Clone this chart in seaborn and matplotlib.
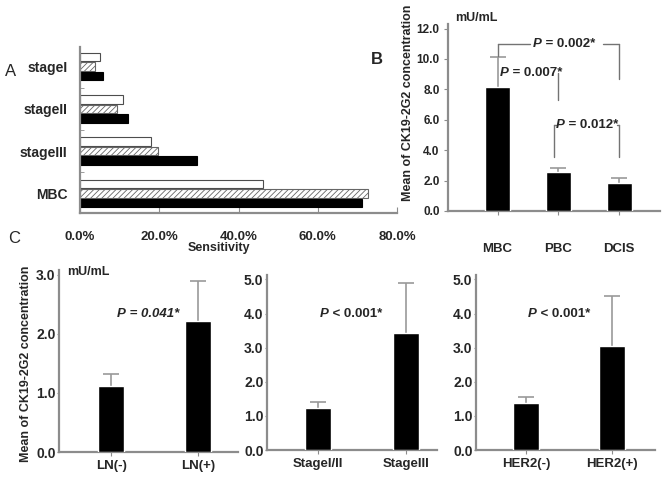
import matplotlib
matplotlib.use("Agg")
import matplotlib.pyplot as plt
import seaborn as sns
import pandas as pd
import numpy as np

# Panel A: sensitivity per stage (three markers: white, hatched, black)
stages = ["stageI", "stageII", "stageIII", "MBC"]
markers = ["marker1", "marker2", "marker3"]
sens_white = [5.0, 10.8, 17.8, 46.2]
sens_hatch = [3.9, 9.4, 19.6, 72.8]
sens_black = [5.7, 12.0, 29.5, 71.1]
sens_ticks = [0, 20, 40, 60, 80]

# Panel B: mean concentration by group (mean, top of error bar)
b_groups = ["MBC", "PBC", "DCIS"]
b_mean = [8.15, 2.59, 1.82]
b_upper = [10.13, 2.81, 2.17]

# Panel C
ln_groups = ["LN(-)", "LN(+)"]
ln_mean = [1.11, 2.22]
ln_upper = [1.32, 2.89]
stage_groups = ["StageI/II", "StageIII"]
stage_mean = [1.24, 3.42]
stage_upper = [1.40, 4.89]
her2_groups = ["HER2(-)", "HER2(+)"]
her2_mean = [1.37, 3.05]
her2_upper = [1.55, 4.50]

sns.set_style("white")
plt.rcParams["font.family"] = ["Liberation Sans", "DejaVu Sans"]
plt.rcParams["hatch.linewidth"] = 0.6

W, H = 664, 484
SPINE = "0.55"
ERR = "0.6"


def box(x0, x1, ytop, ybot):
    return [x0 / W, 1 - ybot / H, (x1 - x0) / W, (ybot - ytop) / H]


def fig_text(fig, x, y, s, **kw):
    fig.text(x / W, 1 - y / H, s, **kw)


def style_axes(ax):
    sns.despine(ax=ax)
    for side in ["left", "bottom"]:
        ax.spines[side].set_color(SPINE)
        ax.spines[side].set_linewidth(1.6)


def p_label(ax, x, y, rest, all_italic=False, size=9.5):
    t = ax.text(x, y, "P", fontstyle="italic", fontweight="bold",
                fontsize=size, va="center", ha="left")
    ax.annotate(rest, xy=(1, 0), xycoords=t, va="bottom", ha="left",
                fontweight="bold", fontsize=size,
                fontstyle="italic" if all_italic else "normal")


def bar_panel(ax, groups, means, uppers, width):
    df = pd.DataFrame({"group": groups, "mean": means})
    sns.barplot(data=df, x="group", y="mean", color="black", saturation=1,
                width=width, ax=ax)
    for p in ax.patches:
        p.set_zorder(3)
    # upper-only error bars: stem + cap marker
    xs = np.arange(len(means))
    ax.vlines(xs, means, uppers, color=ERR, lw=1.2, zorder=1)
    ax.plot(xs, uppers, ls="none", marker="_", markersize=12,
            markeredgewidth=1.2, color=ERR, zorder=1)
    style_axes(ax)
    ax.set_xlabel("")
    ax.set_ylabel("")


fig = plt.figure(figsize=(6.64, 4.84), dpi=100)

# ---------------- Panel A ----------------
ax_a = fig.add_axes(box(80, 397, 47, 213))
df_a = pd.DataFrame({
    "stage": stages * 3,
    "marker": np.repeat(markers, len(stages)),
    "sens": sens_white + sens_hatch + sens_black,
})
sns.barplot(data=df_a, x="sens", y="stage", hue="marker", order=stages,
            hue_order=markers, palette=["white", "white", "black"],
            saturation=1, width=0.68, gap=0.1, orient="h", legend=False,
            linewidth=0.8, ax=ax_a)
for p in ax_a.containers[0]:
    p.set_edgecolor("0.3")
for p in ax_a.containers[1]:
    p.set_edgecolor("0.4")
    p.set_hatch("//////")
for p in ax_a.containers[2]:
    p.set_edgecolor("black")
ax_a.set_xlim(0, 80)
ax_a.set_ylim(3.46, -0.46)
ax_a.set_xticks(sens_ticks)
ax_a.set_xticklabels([f"{v:.1f}%" for v in sens_ticks], fontweight="bold",
                     fontsize=9.5)
ax_a.set_yticks(range(len(stages)))
ax_a.set_yticklabels(stages, fontweight="bold", fontsize=10)
ax_a.set_yticks([0.5, 1.5, 2.5], minor=True)
ax_a.tick_params(axis="x", direction="in", length=4, pad=13, color=SPINE,
                 bottom=True)
ax_a.tick_params(axis="y", which="major", length=0, pad=9)
ax_a.tick_params(axis="y", which="minor", direction="in", length=3,
                 color=SPINE, left=True)
ax_a.set_xlabel("")
ax_a.set_ylabel("")
style_axes(ax_a)
fig_text(fig, 219, 248, "Sensitivity", fontweight="bold", fontsize=9,
         ha="center", va="center")
fig_text(fig, 11, 72, "A", fontsize=12, ha="center", va="center")

# ---------------- Panel B ----------------
ax_b = fig.add_axes(box(448, 660, 24, 211))
bar_panel(ax_b, b_groups, b_mean, b_upper, 0.41)
ax_b.set_xlim(-0.815, 2.67)
ax_b.set_ylim(0, 12.3)
b_ticks = np.arange(0, 13, 2)
ax_b.set_yticks(b_ticks)
ax_b.set_yticklabels([f"{v:.1f}" for v in b_ticks], fontweight="bold",
                     fontsize=8.5)
ax_b.set_xticks(range(len(b_groups)))
ax_b.set_xticklabels(b_groups, fontweight="bold", fontsize=9.5)
ax_b.tick_params(axis="y", direction="out", length=3, pad=3, color=SPINE,
                 left=True)
ax_b.tick_params(axis="x", direction="out", length=3, pad=20, color=SPINE,
                 bottom=True)

# significance brackets
lk = dict(color="0.45", lw=1.0)
ax_b.plot([0, 0.53], [11.0, 11.0], **lk)
ax_b.plot([1.74, 2], [11.0, 11.0], **lk)
ax_b.plot([0, 0], [11.0, 10.2], **lk)
ax_b.plot([2, 2], [11.0, 8.7], **lk)
p_label(ax_b, 0.58, 11.0, " = 0.002*", size=9.5)

ax_b.plot([1, 1], [9.1, 7.3], **lk)
p_label(ax_b, 0.04, 9.1, " = 0.007*", size=9.5)

ax_b.plot([0.92, 0.92], [5.67, 3.56], **lk)
ax_b.plot([2, 2], [5.67, 3.56], **lk)
ax_b.plot([0.92, 0.96], [5.67, 5.67], **lk)
ax_b.plot([1.97, 2], [5.67, 5.67], **lk)
p_label(ax_b, 0.96, 5.67, " = 0.012*", size=9.5)

fig_text(fig, 408, 103, "Mean of CK19-2G2 concentration", rotation=90,
         fontweight="bold", fontsize=9, ha="center", va="center")
fig_text(fig, 455, 18, "mU/mL", fontweight="bold", fontsize=9, ha="left",
         va="center")
fig_text(fig, 377, 60, "B", fontweight="bold", fontsize=12, ha="center",
         va="center")

# ---------------- Panel C ----------------
c_specs = [
    (box(59, 238, 270, 452), ln_groups, ln_mean, ln_upper, (-0.6, 1.46),
     3.08, [0, 1, 2, 3], "P = 0.041*"),
    (box(267, 437, 275, 450), stage_groups, stage_mean, stage_upper,
     (-0.58, 1.35), 5.13, [0, 1, 2, 3, 4, 5], "P < 0.001*"),
    (box(476, 655, 275, 450), her2_groups, her2_mean, her2_upper,
     (-0.58, 1.5), 5.13, [0, 1, 2, 3, 4, 5], "P < 0.001*"),
]
for i, (pos, groups, means, uppers, xl, ytop, yt, ptxt) in enumerate(c_specs):
    ax = fig.add_axes(pos)
    bar_panel(ax, groups, means, uppers, 0.3)
    ax.set_xlim(*xl)
    ax.set_ylim(0, ytop)
    ax.set_yticks(yt)
    ax.set_yticklabels([f"{v:.1f}" for v in yt], fontweight="bold",
                       fontsize=10)
    ax.set_xticks(range(len(groups)))
    ax.set_xticklabels(groups, fontweight="bold", fontsize=9.5)
    ax.tick_params(axis="y", direction="out", length=1.5, pad=1, color=SPINE,
                   left=True)
    ax.tick_params(axis="x", direction="out", length=3, pad=3, color=SPINE,
                   bottom=True)
    if i == 0:
        p_label(ax, 0.07, 2.34, ptxt[1:], all_italic=True)
    else:
        p_label(ax, 0.02, 3.99, ptxt[1:])

fig_text(fig, 26, 364, "Mean of CK19-2G2 concentration", rotation=90,
         fontweight="bold", fontsize=9, ha="center", va="center")
fig_text(fig, 67, 272, "mU/mL", fontweight="bold", fontsize=9, ha="left",
         va="center")
fig_text(fig, 14, 239, "C", fontsize=12, ha="center", va="center")

fig.savefig("out.png", dpi=100)
